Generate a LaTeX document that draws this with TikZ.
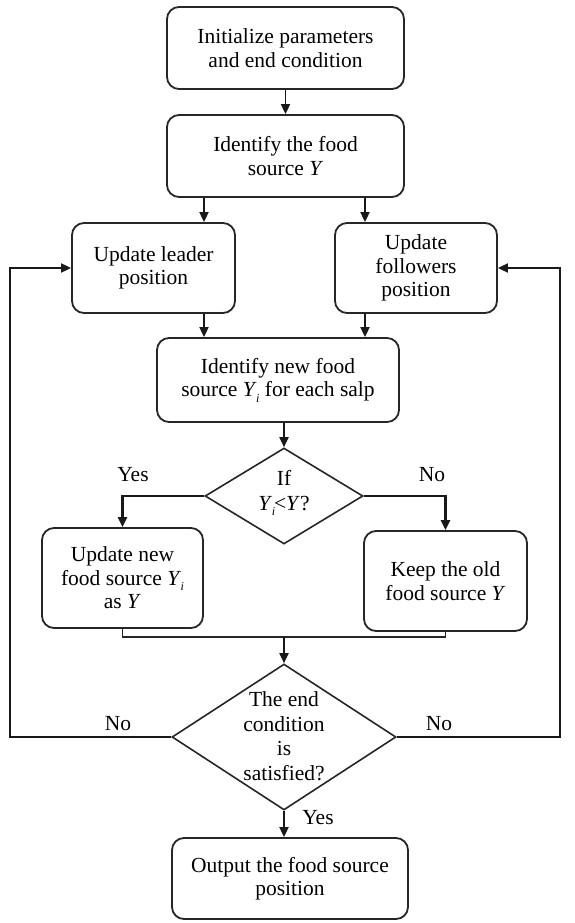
\documentclass[tikz,border=0pt]{standalone}
\usepackage{fontspec}
\setmainfont{Liberation Serif}
\usetikzlibrary{arrows.meta,shapes.geometric}
\newcommand\Ysub{\textit{Y}\kern-0.5pt\raisebox{-0.55ex}{\fontsize{12}{12}\selectfont\textit{i}}}
\tikzset{
  box/.style={draw=black!85, line width=1.8pt, rounded corners=12pt, align=center,
    inner sep=0pt, font=\fontsize{21.5}{23.5}\selectfont},
  dia/.style={draw=black!85, line width=1.6pt, diamond, inner sep=0pt},
  txt/.style={align=center, inner sep=0pt, font=\fontsize{21.5}{24.5}\selectfont},
  arr/.style={draw=black!90, line width=1.8pt, -{Triangle[length=10pt,width=9pt]}},
  ln/.style={draw=black!85, line width=1.8pt},
  thk/.style={draw=black!90, line width=2.4pt, -{Triangle[length=10pt,width=9pt]}},
}
\begin{document}
\begin{tikzpicture}[x=1pt,y=-1pt]
\useasboundingbox[fill=white] (0,0) rectangle (575,923);

\node[box, minimum width=237pt, minimum height=82pt] (n1) at (285.5,48) {Initialize parameters\\and end condition};
\node[box, minimum width=237pt, minimum height=82pt] (n2) at (285.5,156) {Identify the food\\source \textit{Y}};
\node[box, minimum width=163pt, minimum height=90pt] (lead) at (153.5,268) {Update leader\\position};
\node[box, minimum width=162pt, minimum height=90pt] (foll) at (416,268) {Update\\followers\\position};
\node[box, minimum width=242pt, minimum height=84pt] (idnew) at (278,380) {Identify new food\\source \Ysub{} for each salp};

\node[dia, minimum width=158pt, minimum height=96pt] (d1) at (284,496) {};
\node[txt] (d1t) at (284,493) {If\\\Ysub\kern-1pt<\textit{Y}?};

\node[box, minimum width=161pt, minimum height=100pt] (upd) at (122.5,578) {Update new\\food source \Ysub\\as \textit{Y}};
\node[box, minimum width=163pt, minimum height=100pt] (keep) at (445.5,581) {Keep the old\\food source \textit{Y}};

\node[dia, minimum width=224pt, minimum height=146pt] (d2) at (284,737) {};
\node[txt] (d2t) at (284,736) {The end\\condition\\is\\satisfied?};

\node[box, minimum width=236pt, minimum height=81pt] (out) at (290,878.5) {Output the food source\\position};

\coordinate (xL) at (204,0);
\coordinate (xR) at (365,0);
\coordinate (xM) at (284,0);
\coordinate (merge) at (284,637);
\coordinate (lx) at (10,737);
\coordinate (rx) at (560,737);

\draw[arr] (n1.south -| n2.north) -- (n2.north);
\draw[arr] (n2.south -| xL) -- (lead.north -| xL);
\draw[arr] (n2.south -| xR) -- (foll.north -| xR);
\draw[arr] (lead.south -| xL) -- (idnew.north -| xL);
\draw[arr] (foll.south -| xR) -- (idnew.north -| xR);
\draw[arr] (idnew.south -| xM) -- (d1.north);

\draw[thk] (d1.west) -| (upd.north);
\draw[thk] (d1.east) -| (keep.north);

\draw[ln] (upd.south) |- (merge) -| (keep.south);
\draw[arr] (merge) -- (d2.north);

\draw[arr] (d2.south) -- (d2.south |- out.north);

\draw[arr] (d2.west) -- (lx) |- (lead.west);
\draw[arr] (d2.east) -- (rx) |- (foll.east);

\node[txt] (yes1) at (133,475) {Yes};
\node[txt] (no1) at (432,475) {No};
\node[txt] (no2) at (118,724) {No};
\node[txt] (no3) at (439,724) {No};
\node[txt] (yes2) at (318,818) {Yes};
\end{tikzpicture}
\end{document}
